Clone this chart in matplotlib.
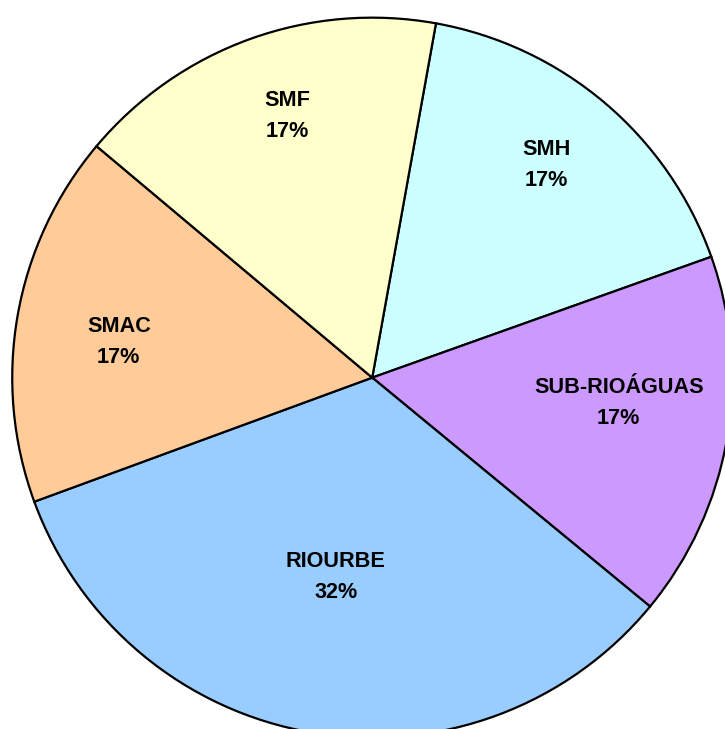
import matplotlib.pyplot as plt

# fatias (sentido horario a partir do topo)
categorias = ["SMH", "SUB-RIOÁGUAS", "RIOURBE", "SMAC", "SMF"]
valores = [16.7, 16.4, 33.4, 16.7, 16.7]
rotulos_pct = ["17%", "17%", "32%", "17%", "17%"]

cores = ["#CCFFFF", "#CC99FF", "#99CCFF", "#FFCC99", "#FFFFCC"]

# posicao dos rotulos (centro do bloco de texto, em raios)
pos_rotulos = [(0.483, 0.591), (0.685, -0.070), (-0.101, -0.553),
               (-0.704, 0.099), (-0.237, 0.727)]

plt.rcParams["font.family"] = ["Liberation Sans", "DejaVu Sans"]

fig = plt.figure(figsize=(7.25, 7.29), dpi=100)
ax = fig.add_axes([0, 0, 1, 1])

ax.pie(
    valores,
    colors=cores,
    startangle=79.8,
    counterclock=False,
    radius=1.0,
    wedgeprops={"edgecolor": "black", "linewidth": 1.6},
)

for (x, y), nome, pct in zip(pos_rotulos, categorias, rotulos_pct):
    ax.text(x, y, f"{nome}\n{pct}", ha="center", va="center",
            fontsize=15.6, fontweight="bold", linespacing=1.62)

ax.set_xlim(-1.034, 0.980)
ax.set_ylim(-0.976, 1.049)
ax.set_aspect("equal")
ax.axis("off")

plt.savefig("out.png", dpi=100)
